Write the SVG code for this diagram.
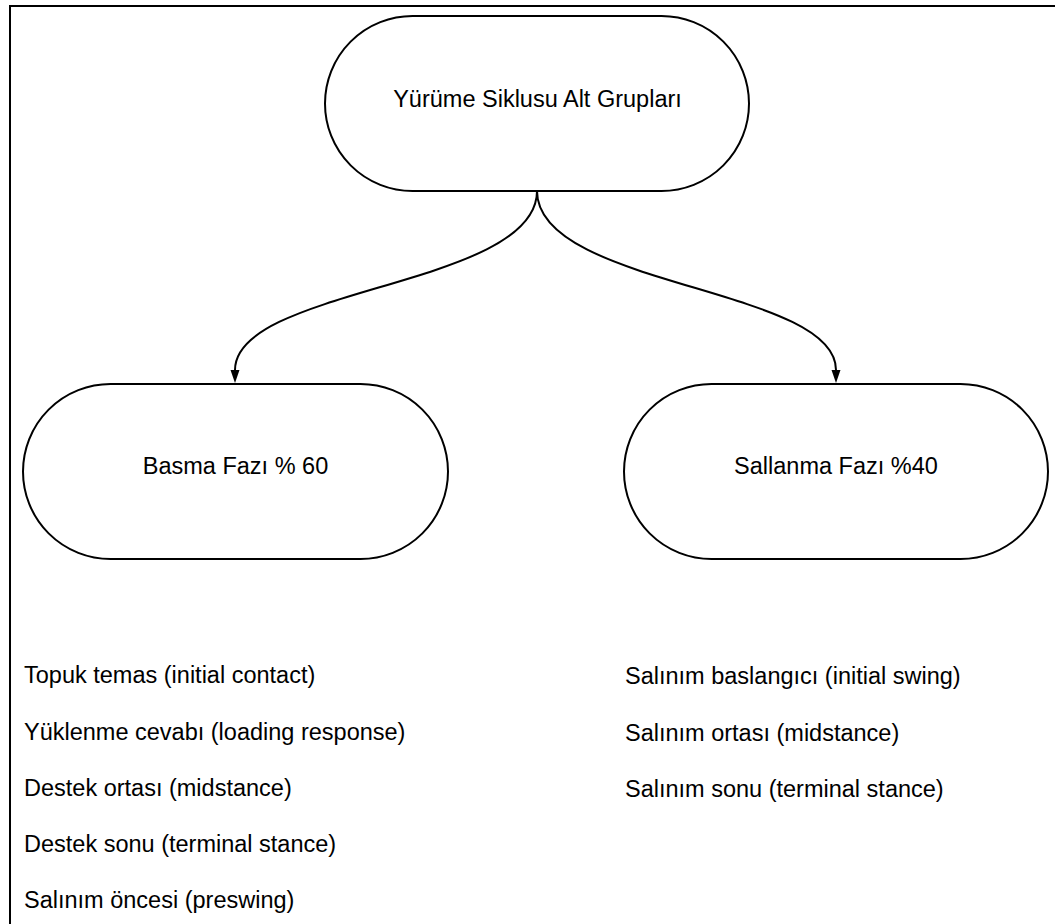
<svg xmlns="http://www.w3.org/2000/svg" width="1055" height="924" viewBox="0 0 1055 924">
<style>
.node{fill:#fff;stroke:#000;stroke-width:2}
.t{font-family:"Liberation Sans",Arial,sans-serif;font-size:23.5px;fill:#000}
.c{text-anchor:middle}
.edge{fill:none;stroke:#000;stroke-width:2}
.head{fill:#000}
</style>
<rect width="1055" height="924" fill="#fff"/>
<rect x="10" y="6" width="1100" height="1000" fill="none" stroke="#000" stroke-width="2"/>
<g id="edges">
<path class="edge" d="M537,191 C537,287 235,287 235,370"/>
<path class="head" d="M230.5,370 L239.5,370 L235,383 Z"/>
<path class="edge" d="M537,191 C537,287 836,287 836,370"/>
<path class="head" d="M831.5,370 L840.5,370 L836,383 Z"/>
</g>
<g id="root">
<rect class="node" x="325" y="16" width="424" height="175" rx="87.5" ry="87.5"/>
<text class="t c" x="537.5" y="107">Yürüme Siklusu Alt Grupları</text>
</g>
<g id="basma">
<rect class="node" x="23" y="384" width="425" height="175" rx="87.5" ry="87.5"/>
<text class="t c" x="235.5" y="474">Basma Fazı % 60</text>
</g>
<g id="sallanma">
<rect class="node" x="624" y="384" width="424" height="175" rx="87.5" ry="87.5"/>
<text class="t c" x="836" y="474">Sallanma Fazı %40</text>
</g>
<g id="basma-list">
<text class="t" x="24" y="683">Topuk temas (initial contact)</text>
<text class="t" x="24" y="740">Yüklenme cevabı (loading response)</text>
<text class="t" x="24" y="796">Destek ortası (midstance)</text>
<text class="t" x="24" y="852">Destek sonu (terminal stance)</text>
<text class="t" x="24" y="908">Salınım öncesi (preswing)</text>
</g>
<g id="sallanma-list">
<text class="t" x="625" y="684">Salınım baslangıcı (initial swing)</text>
<text class="t" x="625" y="741">Salınım ortası (midstance)</text>
<text class="t" x="625" y="797">Salınım sonu (terminal stance)</text>
</g>
</svg>
